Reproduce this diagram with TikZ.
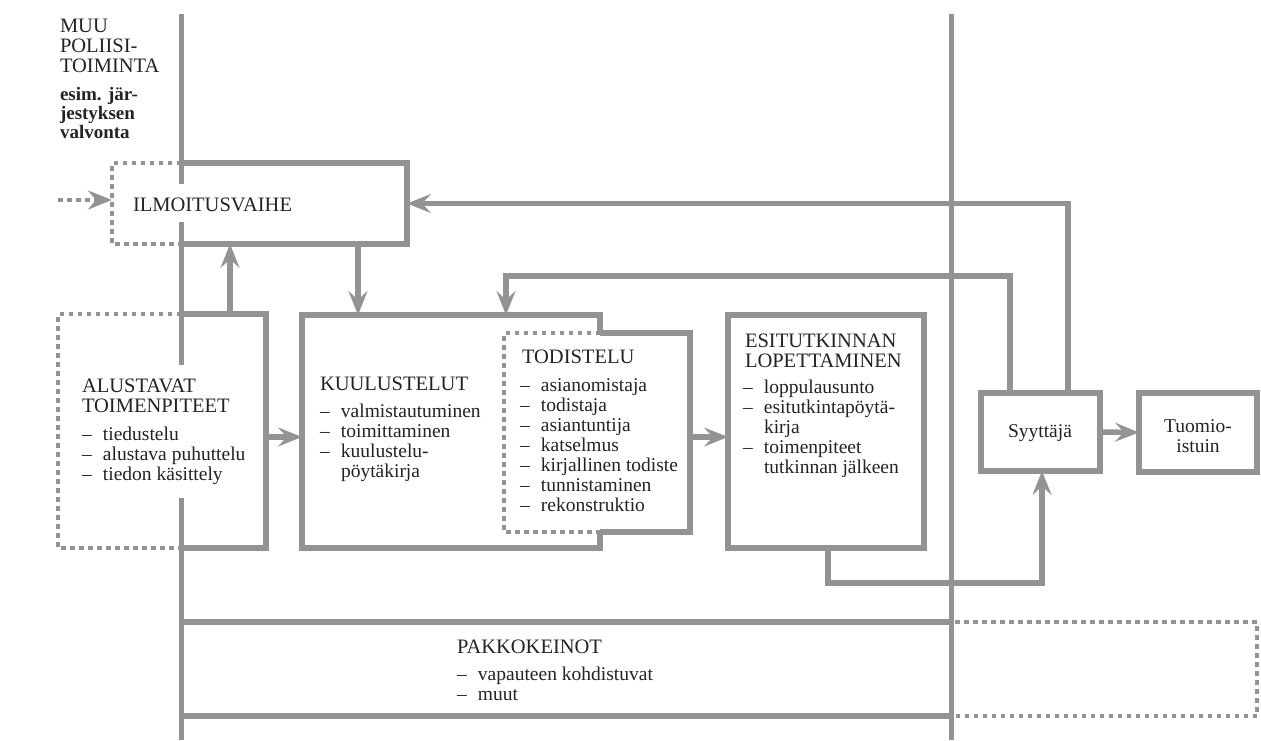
\documentclass[tikz,border=0pt]{standalone}
\usepackage{fontspec}
\setmainfont{Liberation Serif}
\usetikzlibrary{arrows.meta}
\definecolor{lg}{RGB}{147,147,150}
\definecolor{tx}{RGB}{35,35,35}
\newcommand\vstack[2][20pt]{\vtop{\baselineskip=#1\lineskiplimit=-30pt\lineskip=0pt #2}}
\newcommand\cstack[1]{\vtop{\baselineskip=20pt\lineskiplimit=-30pt\lineskip=0pt\halign{\hfil##\hfil\cr#1\crcr}}}
\newcommand\dashline[1]{\hbox{\makebox[21pt][l]{--}#1}}
\newcommand\contline[1]{\hbox{\hspace*{21pt}#1}}
\newcommand\plainline[1]{\hbox{#1}}
\tikzset{
  vline/.style={draw=lg, line width=5pt},
  boxline/.style={draw=lg, line width=5.5pt, line join=miter},
  dotline/.style={draw=lg, line width=4pt, dash pattern=on 4.5pt off 4.5pt},
  conn/.style={draw=lg, line width=5.5pt, -{Stealth[length=24pt,width=19pt,inset=9pt]}},
  dconn/.style={draw=lg, line width=4pt, dash pattern=on 4.5pt off 4.5pt, -{Stealth[length=24pt,width=19pt,inset=8pt]}},
  area/.style={inner sep=0pt, outer sep=0pt, draw=none, rectangle},
  lbl/.style={inner sep=0pt, outer sep=0pt, anchor=base west, text=tx, font=\fontsize{19.5pt}{20pt}\selectfont},
  hdr/.style={lbl, font=\fontsize{20.5pt}{20pt}\selectfont},
}
\begin{document}
\begin{tikzpicture}[x=1pt, y=-1pt]
\useasboundingbox (0,0) rectangle (1261,740);

% invisible box areas
\node[area, minimum width=295pt, minimum height=81pt]  (ilm) at (259.5,203.5) {};
\node[area, minimum width=208pt, minimum height=234pt] (alu) at (162,431) {};
\node[area, minimum width=298pt, minimum height=233pt] (kuu) at (451,431.5) {};
\node[area, minimum width=186pt, minimum height=199pt] (tod) at (597,432.5) {};
\node[area, minimum width=196pt, minimum height=233pt] (esi) at (826,431.5) {};
\node[area, minimum width=119pt, minimum height=78pt]  (syy) at (1040.5,432) {};
\node[area, minimum width=118pt, minimum height=79pt]  (tuo) at (1198,432.5) {};
\node[area, minimum width=1076pt, minimum height=94pt] (pak) at (719,669) {};

% helper coordinates
\coordinate (vlt) at (181,14);
\coordinate (g1) at (181,184);
\coordinate (g2) at (181,222);
\coordinate (g3) at (181,365);
\coordinate (g4) at (181,498);
\coordinate (vlb) at (181,740);
\coordinate (vrt) at (951,14);
\coordinate (vrb) at (951,740);
\coordinate (src) at (58,200);
\coordinate (s1) at (1068,0);
\coordinate (s2) at (1010,0);
\coordinate (k1) at (506,276);
\coordinate (a1) at (230,0);
\coordinate (a2) at (358,0);
\coordinate (c1) at (0,437);
\coordinate (e1) at (828,583);
\coordinate (e2) at (1042,583);

% long vertical lines
\draw[vline] (vlt) -- (g1);
\draw[vline] (g2) -- (g3);
\draw[vline] (g4) -- (vlb);
\draw[vline] (vrt) -- (vrb);

% ILMOITUSVAIHE box
\draw[boxline] (vlt |- ilm.north) -- (ilm.north east) -- (ilm.south east) -- (vlt |- ilm.south);
\draw[dotline] (vlt |- ilm.north) -- (ilm.north west) -- (ilm.south west) -- (vlt |- ilm.south);

% ALUSTAVAT box
\draw[boxline] (vlt |- alu.north) -- (alu.north east) -- (alu.south east) -- (vlt |- alu.south);
\draw[dotline] (vlt |- alu.north) -- (alu.north west) -- (alu.south west) -- (vlt |- alu.south);

% KUULUSTELUT + TODISTELU
\draw[boxline] (tod.north -| kuu.east) -- (kuu.north east) -- (kuu.north west) -- (kuu.south west) -- (kuu.south east) -- (tod.south -| kuu.east);
\draw[boxline] (tod.north -| kuu.east) -- (tod.north east) -- (tod.south east) -- (tod.south -| kuu.east);
\draw[dotline] (tod.north -| kuu.east) -- (tod.north west) -- (tod.south west) -- (tod.south -| kuu.east);

% ESITUTKINNAN, Syyttaja, Tuomioistuin
\draw[boxline] (esi.north west) rectangle (esi.south east);
\draw[boxline] (syy.north west) rectangle (syy.south east);
\draw[boxline] (tuo.north west) rectangle (tuo.south east);

% PAKKOKEINOT
\draw[boxline] (pak.north -| vlt) -- (pak.north -| vrt);
\draw[boxline] (pak.south -| vlt) -- (pak.south -| vrt);
\draw[dotline] ([xshift=4pt]pak.north -| vrt) -- (pak.north east) -- (pak.south east) -- ([xshift=4pt]pak.south -| vrt);

% connectors
\draw[dconn] (src) -- (src -| ilm.west);
\draw[conn] (syy.north -| s1) |- (ilm.east);
\draw[conn] (syy.north -| s2) |- (k1) -- (kuu.north -| k1);
\draw[conn] (alu.north -| a1) -- (ilm.south -| a1);
\draw[conn] (ilm.south -| a2) -- (kuu.north -| a2);
\draw[conn] (alu.east |- c1) -- (kuu.west |- c1);
\draw[conn] (tod.east |- c1) -- (esi.west |- c1);
\draw[conn] (esi.south -| e1) -- (e1) -- (e2) -- (syy.south -| e2);
\draw[conn] (syy.east) -- (tuo.west);

% texts
\node[hdr] (tmuu) at (60,32) {\vstack{\plainline{MUU}\plainline{POLIISI-}\plainline{TOIMINTA}}};
\node[lbl, font=\fontsize{19pt}{19pt}\selectfont\bfseries] (tesim) at (60,100) {\vstack[19pt]{\plainline{esim. jär-}\plainline{jestyksen}\plainline{valvonta}}};
\node[hdr] (tilm) at (133,211) {ILMOITUSVAIHE};
\node[hdr] (talu) at (82,392) {\vstack{\plainline{ALUSTAVAT}\plainline{TOIMENPITEET}}};
\node[lbl] (lalu) at (82,440) {\vstack{\dashline{tiedustelu}\dashline{alustava puhuttelu}\dashline{tiedon käsittely}}};
\node[hdr] (tkuu) at (320,390) {KUULUSTELUT};
\node[lbl] (lkuu) at (320,417) {\vstack{\dashline{valmistautuminen}\dashline{toimittaminen}\dashline{kuulustelu-}\contline{pöytäkirja}}};
\node[hdr] (ttod) at (522,363) {TODISTELU};
\node[lbl] (ltod) at (520,391) {\vstack{\dashline{asianomistaja}\dashline{todistaja}\dashline{asiantuntija}\dashline{katselmus}\dashline{kirjallinen todiste}\dashline{tunnistaminen}\dashline{rekonstruktio}}};
\node[hdr] (tesi) at (745,347) {\vstack{\plainline{ESITUTKINNAN}\plainline{LOPETTAMINEN}}};
\node[lbl] (lesi) at (743,393) {\vstack{\dashline{loppulausunto}\dashline{esitutkintapöytä-}\contline{kirja}\dashline{toimenpiteet}\contline{tutkinnan jälkeen}}};
\node[lbl, anchor=base] (tsyy) at (1040,437) {Syyttäjä};
\node[lbl, anchor=base] (ttuo) at (1198,432) {\cstack{Tuomio-\cr istuin}};
\node[hdr] (tpak) at (457,653) {PAKKOKEINOT};
\node[lbl] (lpak) at (457,680) {\vstack{\dashline{vapauteen kohdistuvat}\dashline{muut}}};
\end{tikzpicture}
\end{document}
